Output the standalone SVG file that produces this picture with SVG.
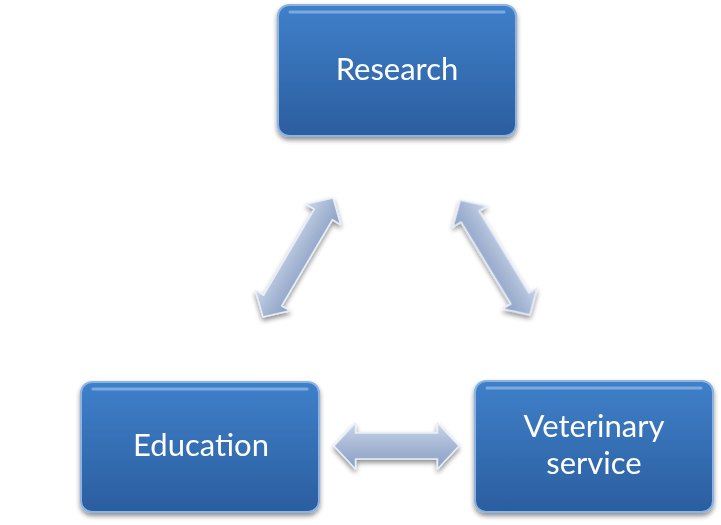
<svg xmlns="http://www.w3.org/2000/svg" width="721" height="525" viewBox="0 0 721 525">
<defs>
<linearGradient id="boxg" x1="0" y1="0" x2="0" y2="1">
<stop offset="0" stop-color="#3f80ca"/>
<stop offset="1" stop-color="#2b5e9f"/>
</linearGradient>
<linearGradient id="arrg" x1="0" y1="0" x2="0" y2="1">
<stop offset="0" stop-color="#c9d5e8"/>
<stop offset="0.5" stop-color="#a6b7d4"/>
<stop offset="1" stop-color="#8b9fc4"/>
</linearGradient>
<filter id="sh" x="-10%" y="-10%" width="120%" height="130%">
<feGaussianBlur in="SourceAlpha" stdDeviation="2.5"/>
<feOffset dx="0" dy="3" result="b"/>
<feComponentTransfer><feFuncA type="linear" slope="0.45"/></feComponentTransfer>
<feMerge><feMergeNode/><feMergeNode in="SourceGraphic"/></feMerge>
</filter>
<style>
.box{fill:url(#boxg);stroke:#8db3e2;stroke-width:2}
.gloss{fill:none;stroke:#a9c6ec;stroke-width:3;stroke-linecap:round;opacity:0.6}
.lbl{fill:#ffffff;font-family:Lato,"Open Sans","Liberation Sans",sans-serif;font-size:31px;text-anchor:middle}
.arr{fill:url(#arrg);stroke:#e6eef9;stroke-width:1.5;stroke-linejoin:round}
</style>
</defs>
<g id="research" filter="url(#sh)">
<rect class="box" x="278" y="5" width="238" height="131" rx="11"/>
<line class="gloss" x1="290" y1="12" x2="504" y2="12"/>
<text class="lbl" x="397" y="80">Research</text>
</g>
<g id="education" filter="url(#sh)">
<rect class="box" x="81" y="382" width="238" height="130" rx="11"/>
<line class="gloss" x1="93" y1="389" x2="307" y2="389"/>
<text class="lbl" x="201" y="456">Education</text>
</g>
<g id="veterinary" filter="url(#sh)">
<rect class="box" x="475" y="381" width="238" height="131" rx="11"/>
<line class="gloss" x1="487" y1="388" x2="701" y2="388"/>
<text class="lbl" x="594" y="437">Veterinary</text>
<text class="lbl" x="594" y="474">service</text>
</g>
<g id="connectors" filter="url(#sh)">
<path class="arr" transform="translate(298,257.5) rotate(-59.5)" d="M-69,0 L-50,-20 L-50,-10.5 L50,-10.5 L50,-20 L69,0 L50,20 L50,10.5 L-50,10.5 L-50,20 Z"/>
<path class="arr" transform="translate(495,257.5) rotate(58.7)" d="M-67,0 L-48,-20 L-48,-10.5 L48,-10.5 L48,-20 L67,0 L48,20 L48,10.5 L-48,10.5 L-48,20 Z"/>
<path class="arr" transform="translate(396.5,446)" d="M-62.5,0 L-41,-23 L-41,-13 L41,-13 L41,-23 L62.5,0 L41,23 L41,13 L-41,13 L-41,23 Z"/>
</g>
</svg>
